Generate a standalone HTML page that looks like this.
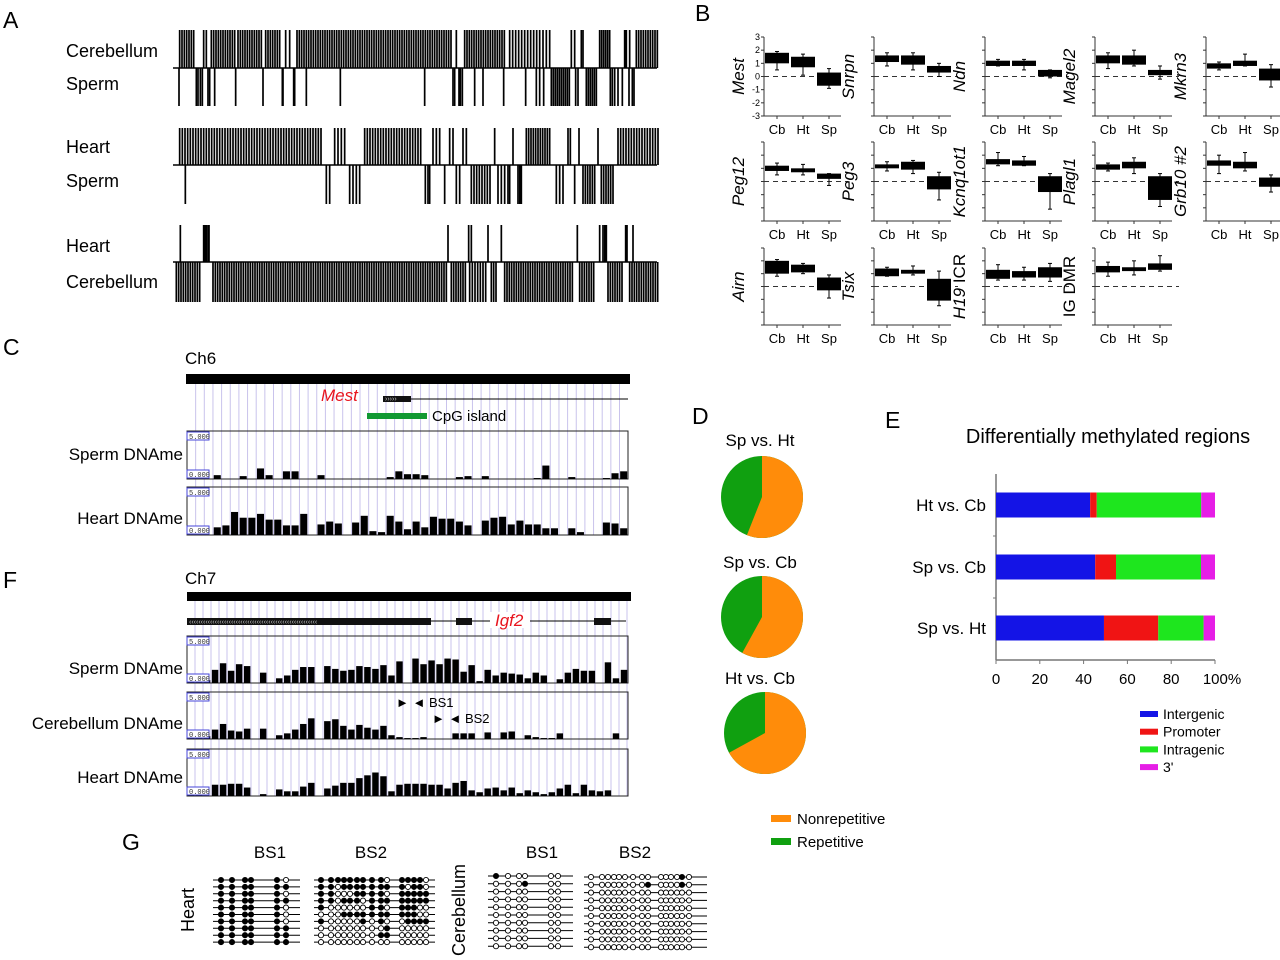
<!DOCTYPE html>
<html><head><meta charset="utf-8"><style>
html,body{margin:0;padding:0;background:#fff}
svg{display:block;font-family:"Liberation Sans",sans-serif}
</style></head><body>
<svg id="fig" width="1280" height="960" viewBox="0 0 1280 960" xmlns="http://www.w3.org/2000/svg"></svg>
<script>
// ---------- DATA ----------
const aCb1=[[20,65,7],[92],[100],[115,185,7],[195,265,7],[278,320,7],[338],[350],[372,500,7],[505,835,7],[850],[875,1000,7],[1010,1100,9],[1110],[1120],[1130],[1195],[1205],[1225],[1230],[1280,1310,6],[1355],[1360],[1370],[1390,1455,7]];
const aSp1=[[18],[70],[75],[82],[88],[105],[110],[125],[188],[270],[328],[330],[362],[365],[400],[502],[755],[840],[845],[858],[862],[868],[905],[930],[992],[1058],[1090],[1100],[1112],[1135,1190,6],[1208],[1215],[1240,1270,6],[1312],[1318],[1325],[1335],[1348],[1368],[1378],[1383]];
const aHt2=[[20,445,8],[485],[495],[505],[515],[575,745,8],[780],[790],[800],[830],[840],[870],[880],[965],[1020],[1060,1135,7],[1185],[1192],[1218],[1275],[1335,1455,8]];
const aSp2=[[37],[460],[470],[530],[540],[550],[560],[757],[765],[770],[815],[850],[860],[895,955,8],[975],[985],[995],[1005],[1010],[1035],[1040],[1045],[1150],[1160],[1170],[1205],[1230,1265,7],[1285,1320,7]];
const aHt3=[[22],[92],[97],[100],[105],[108],[825],[887],[895],[945],[985],[1213],[1280],[1290],[1295],[1300],[1358],[1362],[1380]];
const aCb3=[[10,80,7],[120,820,7],[835,880,7],[890,940,8],[955,975,7],[995,1200,7],[1220,1265,7],[1305,1350,7],[1370,1455,7]];

const bGenes=["Mest","Snrpn","Ndn","Magel2","Mkrn3","Peg12","Peg3","Kcnq1ot1","Plagl1","Grb10 #2","Airn","Tsix","H19 ICR","IG DMR"];
const bCb=[[1,1.8,0.5,1.9],[1.1,1.6,0.8,1.8],[0.8,1.2,0.8,1.3],[1,1.6,0.6,1.8],[0.6,1,0.5,1.1],[0.8,1.2,0.5,1.4],[1,1.3,0.8,1.5],[1.3,1.7,1.2,2.2],[0.9,1.3,0.8,1.4],[1.2,1.6,0.6,2],[1,2,0.8,2.1],[0.8,1.4,0.8,1.5],[0.6,1.3,0.5,1.7],[1.1,1.6,0.8,1.9]];
const bHt=[[0.7,1.5,0.1,1.7],[0.9,1.6,0.5,1.8],[0.8,1.2,0.5,1.3],[0.9,1.6,0.8,2],[0.8,1.2,0.8,1.7],[0.7,1,0.5,1.3],[0.9,1.5,0.6,1.6],[1.2,1.6,1.2,1.9],[1,1.5,0.6,1.8],[1,1.5,0.8,2.2],[1.1,1.7,1,1.8],[1,1.3,0.9,1.6],[0.7,1.2,0.5,1.5],[1.2,1.5,0.9,2]];
const bSp=[[-0.7,0.3,-0.9,0.6],[0.3,0.8,0,1],[0,0.5,-0.1,0.5],[0.1,0.5,-0.2,0.8],[-0.3,0.6,-0.8,0.9],[0.2,0.6,-0.3,0.6],[-0.6,0.4,-1.4,0.7],[-0.8,0.4,-2.1,0.6],[-1.4,0.4,-1.9,0.6],[-0.4,0.3,-0.8,0.5],[-0.3,0.7,-0.9,0.9],[-1.1,0.6,-1.5,1.2],[0.7,1.5,0.4,1.8],[1.3,1.8,1.2,2.4]];
const bCats=["Cb","Ht","Sp"];
const bTicks=[3,2,1,0,-1,-2,-3];

const cSperm=[0,0,0,0.4,0,0,0.3,0,1.1,0.4,0,0.8,0.8,0,0,0.4,0,0,0,0,0,0,0,0.2,0.8,0.5,0.5,0.4,0,0,0,0.2,0.3,0,0.3,0,0,0,0,0,0.1,1.4,0,0,0.2,0,0,0,0.1,0.6,0.8];
const cHeart=[0,0,0,0.8,1.0,2.4,1.8,1.8,2.2,1.6,1.6,1.0,1.0,2.2,0,1.1,1.4,1.2,0,1.3,2.0,0.4,0.3,2.0,1.4,0.6,1.4,0.8,1.9,1.7,1.7,1.4,1.0,0,1.5,1.8,1.9,1.1,1.5,1.1,1.1,0.7,0.7,0,0.7,0.3,0,0,1.3,1.2,0.7];
const fSperm=[0.6,0.4,0.3,1.4,2.1,1.3,2.0,1.8,0,1.1,0,0.5,0.8,1.4,1.7,1.7,0,1.8,1.5,1.3,1.4,1.8,1.7,1.5,1.9,0.8,2.3,0,2.6,2.0,2.4,2.0,2.6,2.5,1.2,1.9,0.2,1.4,0.8,1.1,1.0,0.9,0.5,1.1,0.8,0,0.4,1.1,1.5,1.3,1.3,0,2.2,0.5,1.4];
const fCereb=[0.5,0.3,0.3,1.0,1.6,0.9,0.8,1.1,0,1.1,0,0.4,0.6,1.0,1.6,2.2,0,1.9,2.1,1.4,1.0,1.5,1.2,1.0,1.4,0.4,0.2,0.1,0.1,0.2,0,0,0,0.6,0.6,0.6,0,0.7,0,0.7,0.8,0,0.4,0.2,0.1,0.1,0.6,0,0,0,0,0,0,0.6,0];
const fHeart=[0.3,0.4,0,1.2,1.2,1.3,1.3,0.9,0,0.2,0,0.7,0.5,0.5,1.0,1.4,0,0.8,1.1,1.4,1.4,1.9,2.2,2.5,2.1,0.5,1.2,1.3,1.3,1.3,1.2,1.2,0.8,1.4,1.6,0.6,0.4,0.8,0.9,0.6,0.9,0.3,0.6,0.4,0.2,0.4,0.8,1.2,0.3,1.2,0.6,0.5,0.6,0,0];

const dTitles=["Sp vs. Ht","Sp vs. Cb","Ht vs. Cb"];
const dNonrep=[56,58,67];
const dRep=[44,42,33];

const eCats=["Ht vs. Cb","Sp vs. Cb","Sp vs. Ht"];
const eIntergenic=[43,45.3,49.3];
const ePromoter=[3,9.5,24.8];
const eIntragenic=[47.7,38.8,20.7];
const e3prime=[6.3,6.4,5.2];
const eTicks=[0,20,40,60,80,100];

const gHtBS1=["111110","111111","111110","111111","111110","111110","111110","111111","111111","111111"];
const gHtBS2=["111111111011110","110111111110110","110001111011111","110111011111111","100000011011100","000111111111100","100000101001111","000000000100000","000000001100000","000000000000000"];
const gCbBS1=["100000","000100","000000","000000","000000","000000","000000","000000","000000","000000"];
const gCbBS2=["000000000000010","000000001000010","000000000000000","000000000000000","000000000000000","000000000000000","000000000000000","000000000000000","000000000000000","000000000000000"];

// ---------- DRAWING ----------
const NS="http://www.w3.org/2000/svg";
const svg=document.getElementById('fig');
function el(tag,attrs,parent){const e=document.createElementNS(NS,tag);for(const k in attrs)e.setAttribute(k,attrs[k]);(parent||svg).appendChild(e);return e;}
function txt(s,x,y,size,attrs,parent){const t=el('text',Object.assign({x:x,y:y,'font-size':size,fill:'#000'},attrs||{}),parent);t.textContent=s;return t;}
function grp(){return el('g',{});}

[["A",3,28],["B",695,21],["C",3,355],["D",692,424],["E",885,428],["F",3,588],["G",122,850]].forEach(p=>{
  const t=txt(p[0],p[1],p[2],23);
  
  
});

// ---- Panel A ----
const gA=grp();


function expand(runs){const out=[];runs.forEach(r=>{if(r.length===1)out.push(r[0]);else for(let v=r[0];v<=r[1];v+=r[2])out.push(v);});return out;}
function tickTrack(runs,y0,y1){expand(runs).forEach(v=>{const x=173+v/3;el('line',{x1:x,x2:x,y1:y0,y2:y1,stroke:'#000','stroke-width':1.7},gA);});}
[[aCb1,aSp1,30,68,106,"Cerebellum","Sperm",57,90],[aHt2,aSp2,128,165,204,"Heart","Sperm",153,187],[aHt3,aCb3,225,262,302,"Heart","Cerebellum",252,288]].forEach(r=>{
  tickTrack(r[0],r[2],r[3]);tickTrack(r[1],r[3],r[4]);
  el('line',{x1:173,x2:657,y1:r[3],y2:r[3],stroke:'#000','stroke-width':1.5},gA);
  txt(r[5],66,r[7],18,{},gA);txt(r[6],66,r[8],18,{},gA);
});

// ---- Panel B ----
const colX=[764,874,985,1095,1206];
const rowY=[[37,116],[142,221],[248,325]];
bGenes.forEach((g,i)=>{
  const c=i%5,r=Math.floor(i/5);
  const ax=colX[c],top=rowY[r][0],bot=rowY[r][1];
  const gb=grp();
  
  
  const yS=v=>top+(3-v)*(bot-top)/6;
  const xS=k=>ax+13+k*26;
  el('line',{x1:ax,x2:ax,y1:top,y2:bot,stroke:'#333','stroke-width':1},gb);
  el('line',{x1:ax,x2:ax+77,y1:bot,y2:bot,stroke:'#333','stroke-width':1},gb);
  bTicks.forEach(t=>{el('line',{x1:ax-3,x2:ax,y1:yS(t),y2:yS(t),stroke:'#333'},gb);if(i===0)txt(String(t),ax-4,yS(t)+3,9,{'text-anchor':'end'},gb);});
  el('line',{x1:ax,x2:ax+84,y1:yS(0),y2:yS(0),stroke:'#333','stroke-dasharray':'5,4'},gb);
  [bCb[i],bHt[i],bSp[i]].forEach((b,k)=>{
    const x=xS(k);
    el('line',{x1:x,x2:x,y1:yS(b[3]),y2:yS(b[2]),stroke:'#000'},gb);
    el('line',{x1:x-2,x2:x+2,y1:yS(b[3]),y2:yS(b[3]),stroke:'#000'},gb);
    el('line',{x1:x-2,x2:x+2,y1:yS(b[2]),y2:yS(b[2]),stroke:'#000'},gb);
    el('rect',{x:x-12,y:yS(b[1]),width:24,height:Math.max(2,yS(b[0])-yS(b[1])),fill:'#000'},gb);
    el('line',{x1:x,x2:x,y1:bot,y2:bot+3,stroke:'#333'},gb);
    txt(bCats[k],x,bot+18,13,{'text-anchor':'middle'},gb);
  });
  const lx=ax-20,ly=(top+bot)/2;
  let t;
  if(g==="H19 ICR"){t=txt('',lx,ly,17,{'text-anchor':'middle',transform:`rotate(-90 ${lx} ${ly})`},gb);const a=el('tspan',{'font-style':'italic'},t);a.textContent='H19';const b2=el('tspan',{},t);b2.textContent=' ICR';}
  else t=txt(g,lx,ly,17,{'text-anchor':'middle','font-style':g==="IG DMR"?'normal':'italic',transform:`rotate(-90 ${lx} ${ly})`},gb);
});

// ---- Genome browser tracks ----
function vgrid(x0,x1,step,y0,y1,parent){for(let x=x0+step;x<x1;x+=step)el('line',{x1:x,x2:x,y1:y0,y2:y1,stroke:'#c9c3ec','stroke-width':1},parent);}
function track(vals,x0,x1,y0,y1,name,parent){
  const gt=el('g',{},parent);
  
  
  el('rect',{x:x0,y:y0,width:x1-x0,height:y1-y0,fill:'none',stroke:'#222','stroke-width':1},gt);
  const sw=(x1-x0)/vals.length, unit=(y1-y0)/5;
  vals.forEach((v,i)=>{if(v>0)el('rect',{x:x0+i*sw+0.8,y:y1-v*unit,width:sw-1.6,height:v*unit,fill:'#000'},gt);});
  [[y0+1,'5.000'],[y1-9,'0.000']].forEach(l=>{el('rect',{x:x0,y:l[0],width:22,height:8,fill:'#fff',stroke:'#4646d8','stroke-width':1},gt);txt(l[1],x0+2,l[0]+7,7,{'font-family':'Liberation Mono, monospace',fill:'#333'},gt);});
}
const gC=grp();
txt('Ch6',185,364,17,{},gC);
vgrid(187,628,8.65,383,535,gC);
el('rect',{x:186,y:374,width:444,height:10,fill:'#000'},gC);
txt('Mest',321,401,17,{fill:'#e8141e','font-style':'italic'},gC);
el('line',{x1:410,x2:628,y1:399,y2:399,stroke:'#000'},gC);
el('rect',{x:383,y:396,width:28,height:6,fill:'#111'},gC);
txt('›››››',385,401,7,{fill:'#ccc'},gC);
el('rect',{x:367,y:413,width:60,height:6,fill:'#119933'},gC);
txt('CpG island',432,421,15,{},gC);
track(cSperm,187,628,431,479,'mest-sperm-track',gC);
track(cHeart,187,628,487,535,'mest-heart-track',gC);
txt('Sperm DNAme',183,460,17,{'text-anchor':'end'},gC);
txt('Heart DNAme',183,524,17,{'text-anchor':'end'},gC);

const gF=grp();
txt('Ch7',185,584,17,{},gF);
vgrid(187,628,8,601,796,gF);
el('rect',{x:187,y:592,width:444,height:9,fill:'#000'},gF);
el('line',{x1:430,x2:626,y1:621,y2:621,stroke:'#000'},gF);
el('rect',{x:187,y:618,width:244,height:7,fill:'#111'},gF);
txt('‹‹‹‹‹‹‹‹‹‹‹‹‹‹‹‹‹‹‹‹‹‹‹‹‹‹‹‹‹‹‹‹‹‹‹‹‹‹‹‹‹‹‹‹‹‹‹‹‹‹‹‹‹‹‹',189,624,7,{fill:'#ccc'},gF);
el('rect',{x:456,y:618,width:16,height:7,fill:'#111'},gF);
el('rect',{x:594,y:618,width:17,height:7,fill:'#111'},gF);
el('rect',{x:490,y:612,width:40,height:16,fill:'#fff'},gF);
txt('Igf2',495,626,17,{fill:'#e8141e','font-style':'italic'},gF);
track(fSperm,187,628,636,683,'igf2-sperm-track',gF);
track(fCereb,187,628,692,739,'igf2-cerebellum-track',gF);
track(fHeart,187,628,749,796,'igf2-heart-track',gF);
txt('Sperm DNAme',183,674,17,{'text-anchor':'end'},gF);
txt('Cerebellum DNAme',183,729,17,{'text-anchor':'end'},gF);
txt('Heart DNAme',183,783,17,{'text-anchor':'end'},gF);
txt('► ◄ BS1',396,707,13,{},gF);
txt('► ◄ BS2',432,723,13,{},gF);

// ---- Panel D ----
const pieC=[[762,497],[762,617],[765,733]];
const titleY=[446,568,684];
dNonrep.forEach((v,i)=>{
  const gp=grp();
  
  
  const cx=pieC[i][0],cy=pieC[i][1],r=41,tot=v+dRep[i];
  const a=v/tot*2*Math.PI;
  const ex=cx+r*Math.sin(a),ey=cy-r*Math.cos(a);
  el('circle',{cx:cx,cy:cy,r:r,fill:'#10a010'},gp);
  el('path',{d:`M${cx},${cy} L${cx},${cy-r} A${r},${r} 0 ${a>Math.PI?1:0} 1 ${ex},${ey} Z`,fill:'#ff8c0a'},gp);
  txt(dTitles[i],760,titleY[i],17,{'text-anchor':'middle'},gp);
});
const gDL=grp();
el('rect',{x:771,y:815,width:20,height:7,fill:'#ff8c0a'},gDL);txt('Nonrepetitive',797,824,15,{},gDL);
el('rect',{x:771,y:838,width:20,height:7,fill:'#10a010'},gDL);txt('Repetitive',797,847,15,{},gDL);

// ---- Panel E ----
const gE=grp();
txt('Differentially methylated regions',1108,443,20,{'text-anchor':'middle'},gE);
const ex0=996,ex1=1215;const xE=v=>ex0+v*(ex1-ex0)/100;
const barCY=[505,567,628];
el('line',{x1:ex0,x2:ex0,y1:474,y2:660,stroke:'#777','stroke-width':1.5},gE);
el('line',{x1:ex0,x2:ex1,y1:660,y2:660,stroke:'#777','stroke-width':1.5},gE);
[536,598].forEach(y=>el('line',{x1:ex0-3,x2:ex0,y1:y,y2:y,stroke:'#777'},gE));
eTicks.forEach(t=>{el('line',{x1:xE(t),x2:xE(t),y1:660,y2:664,stroke:'#777'},gE);txt(t===100?'100%':String(t),xE(t)+(t===100?7:0),684,15,{'text-anchor':'middle'},gE);});
const eCols=['#1414e6','#f01414','#1ee61e','#e61ee6'];
const eNames=['intergenic','promoter','intragenic','3-prime'];
eCats.forEach((c,i)=>{
  let acc=0;
  [eIntergenic[i],ePromoter[i],eIntragenic[i],e3prime[i]].forEach((v,k)=>{
    const r=el('rect',{x:xE(acc),y:barCY[i]-12.5,width:xE(acc+v)-xE(acc),height:25,fill:eCols[k]},gE);
    
    
    acc+=v;
  });
  txt(c,986,barCY[i]+6,17,{'text-anchor':'end'},gE);
});
const gEL=grp();
['Intergenic','Promoter','Intragenic',"3'"].forEach((n,k)=>{const y=714+k*17.7;el('rect',{x:1140,y:y-3,width:18,height:6,fill:eCols[k]},gEL);txt(n,1163,y+5,14,{},gEL);});

// ---- Panel G ----
const gG=grp();
txt('BS1',270,858,17,{'text-anchor':'middle'},gG);txt('BS2',371,858,17,{'text-anchor':'middle'},gG);
txt('BS1',542,858,17,{'text-anchor':'middle'},gG);txt('BS2',635,858,17,{'text-anchor':'middle'},gG);
txt('Heart',194,910,18,{'text-anchor':'middle',transform:'rotate(-90 194 910)'},gG);
txt('Cerebellum',465,910,18,{'text-anchor':'middle',transform:'rotate(-90 465 910)'},gG);
function lolli(rows,pos,x0,x1,y0,dy){rows.forEach((s,r)=>{const y=y0+r*dy;el('line',{x1:x0,x2:x1,y1:y,y2:y,stroke:'#000','stroke-width':1},gG);pos.forEach((p,k)=>{el('circle',{cx:p,cy:y,r:2.6,fill:s[k]==='1'?'#000':'#fff',stroke:'#000','stroke-width':0.9},gG);});});}
lolli(gHtBS1,[221,232,245,251,277,286],213,300,880,6.9);
lolli(gHtBS2,[321,331,338,344,350,357,363,372,381,387,402,408,414,420,426],314,435,880,6.9);
lolli(gCbBS1,[496,508,519,525,551,558],488,573,876,7.8);
lolli(gCbBS2,[591,602,608,614,619,625,633,642,648,661,666,671,677,682,689],584,707,877,7.8);
</script>
</body></html>
